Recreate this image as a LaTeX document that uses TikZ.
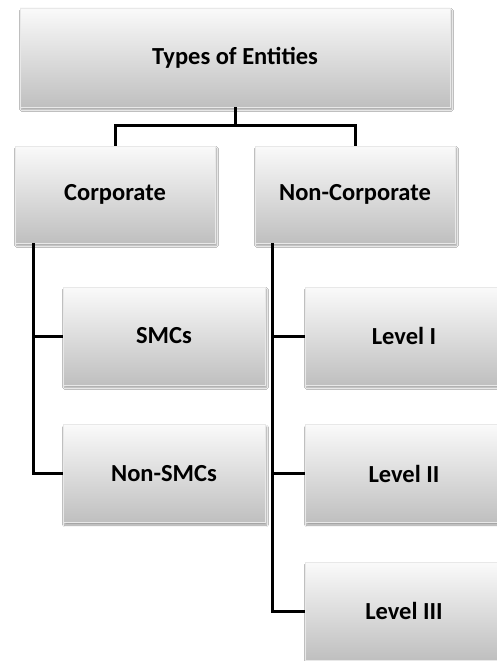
\documentclass[tikz,border=0pt]{standalone}
\usepackage{fontspec}
\setmainfont{Carlito}
\usetikzlibrary{shadows.blur}
\tikzset{
  box/.style={rectangle, draw=gray!18, line width=0.6pt,
    top color=white!96!gray, bottom color=gray!50, inner sep=0pt,
    font=\bfseries\fontsize{24.5}{29}\selectfont,
    blur shadow={shadow xshift=1.5pt, shadow yshift=-2.5pt, shadow blur steps=6, shadow opacity=40}},
  bigbox/.style={box, minimum width=430pt, minimum height=99pt},
  midbox/.style={box, minimum width=200pt, minimum height=97pt},
  subbox/.style={box, minimum width=202pt, minimum height=98pt},
  conn/.style={line width=3pt, black}
}
\begin{document}
\begin{tikzpicture}[x=1pt,y=-1pt]
\clip (0,0) rectangle (497,661);
\fill[white] (0,0) rectangle (497,661);
\node[bigbox] (top) at (235,57.5) {Types of Entities};
\node[midbox] (corp) at (115,194.5) {Corporate};
\node[midbox] (ncorp) at (355,194.5) {Non-Corporate};
\node[subbox] (smc) at (164,336) {SMCs};
\node[subbox] (nsmc) at (164,473.5) {Non-SMCs};
\node[subbox, minimum width=198pt] (l1) at (404,336) {Level I};
\node[subbox, minimum width=198pt] (l2) at (404,473.5) {Level II};
\node[subbox, minimum width=198pt] (l3) at (404,611) {Level III};
\coordinate (mid) at ([yshift=-18pt]top.south);
\draw[conn] (top.south) -- (mid);
\draw[conn] (mid) -| (corp.north);
\draw[conn] (mid) -| (ncorp.north);
\coordinate (cl) at ([xshift=19pt]corp.south west);
\coordinate (nl) at ([xshift=18pt]ncorp.south west);
\draw[conn] (cl) |- (smc.west);
\draw[conn] (cl) |- (nsmc.west);
\draw[conn] (nl) |- (l1.west);
\draw[conn] (nl) |- (l2.west);
\draw[conn] (nl) |- (l3.west);
\end{tikzpicture}
\end{document}
